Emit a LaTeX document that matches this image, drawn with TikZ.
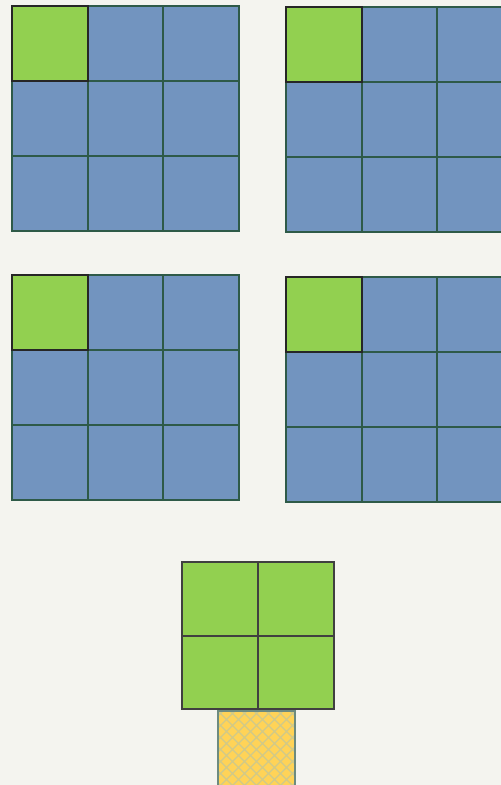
\documentclass[tikz,border=0pt]{standalone}
\begin{document}
\begin{tikzpicture}[x=1pt,y=-1pt,
  bluecell/.style={fill=cellblue,draw=gridline,line width=1.8pt},
  greencell/.style={fill=cellgreen,draw=black!85,line width=2pt},
  yellowcell/.style={fill=cellyellow,draw=gridline!70,line width=1.4pt}]
\definecolor{bg}{HTML}{F4F4EF}
\definecolor{cellblue}{HTML}{7294BF}
\definecolor{cellgreen}{HTML}{92D050}
\definecolor{cellyellow}{HTML}{FFD357}
\definecolor{gridline}{HTML}{2E5A48}
\definecolor{hatch}{HTML}{CFC98A}
\fill[bg] (0,0) rectangle (501,785);
\useasboundingbox (0,0) rectangle (501,785);
% 3x3 grids
\foreach \gx/\gy in {12/6, 286/7, 12/275, 286/277}{
  \foreach \i in {0,1,2}{
    \foreach \j in {0,1,2}{
      \draw[bluecell] ({\gx+75.6*\i},{\gy+75*\j}) rectangle ++(75.6,75);
    }
  }
  \draw[greencell] (\gx,\gy) rectangle ++(75.6,75);
}
% 2x2 green
\foreach \i in {0,1}{
  \foreach \j in {0,1}{
    \draw[greencell,draw=black!75] ({182+76*\i},{562+73.5*\j}) rectangle ++(76,73.5);
  }
}
% yellow hatched cell
\fill[cellyellow] (218,711) rectangle (295,790);
\begin{scope}
  \clip (218,711) rectangle (295,790);
  \foreach \k in {-8,...,8}{
    \draw[hatch,line width=1.1pt] ({218+\k*12},711) -- ++(80,80);
    \draw[hatch,line width=1.1pt] ({295-\k*12},711) -- ++(-80,80);
  }
\end{scope}
\draw[yellowcell,fill=none] (218,711) rectangle (295,790);
\end{tikzpicture}
\end{document}
